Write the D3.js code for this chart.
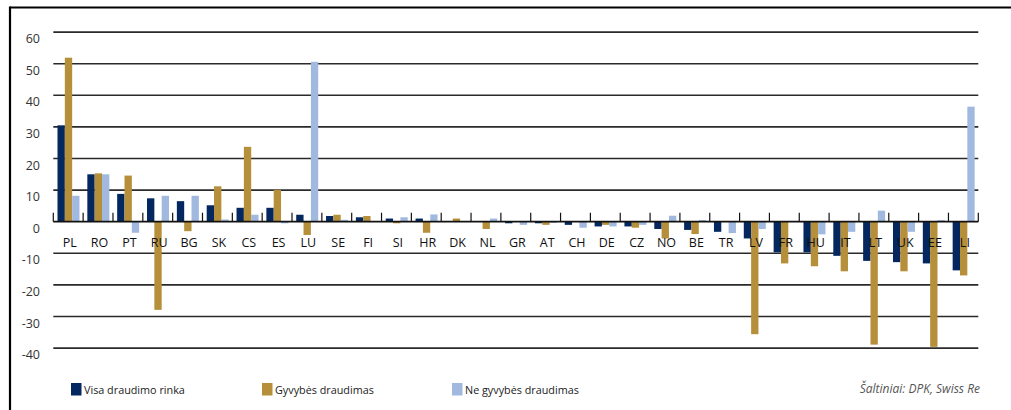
<!DOCTYPE html>
<html>
<head>
<meta charset="utf-8">
<script src="https://cdn.jsdelivr.net/npm/d3@7"></script>
<style>
  html, body { margin: 0; padding: 0; background: #fff; }
  svg { display: block; }
</style>
</head>
<body>
<svg id="chart" width="1011" height="410"></svg>
<script>
const categories = ["PL","RO","PT","RU","BG","SK","CS","ES","LU","SE","FI","SI","HR","DK","NL","GR","AT","CH","DE","CZ","NO","BE","TR","LV","FR","HU","IT","LT","UK","EE","LI"];
const seriesNames = ["Visa draudimo rinka","Gyvybės draudimas","Ne gyvybės draudimas"];
const totalMarket = [30.5,15.0,8.8,7.4,6.5,5.2,4.4,4.4,2.2,1.8,1.4,1.0,1.0,0,0,-0.5,-0.5,-1.0,-1.5,-1.5,-2.3,-2.6,-3.2,-5.3,-9.7,-9.7,-10.8,-12.4,-12.8,-13.2,-15.4];
const lifeIns = [51.9,15.3,14.6,-27.9,-3.0,11.2,23.7,10.1,-4.2,2.2,1.8,-0.5,-3.5,1.0,-2.3,0,-1.0,0,-1.0,-1.9,-5.3,-3.9,0,-35.6,-13.2,-14.1,-15.7,-38.9,-15.7,-39.6,-17.0];
const nonLifeIns = [8.2,15.0,-3.5,8.2,8.2,0.7,2.2,-0.5,50.6,0.6,0,1.4,2.3,0,1.0,-1.0,-0.4,-1.9,-1.5,-1.0,1.9,0.5,-3.6,-2.3,0,-4.0,-3.2,3.5,-3.2,0.5,36.4];
const yTicks = [60,50,40,30,20,10,0,-10,-20,-30,-40];
const sourceText = "Šaltiniai: DPK, Swiss Re";

const colors = ["#03275e","#b68f3b","#a2b9df"];
const seriesValues = [totalMarket, lifeIns, nonLifeIns];

const svg = d3.select("#chart");

// frame
svg.append("line").attr("x1",10).attr("x2",1011).attr("y1",7.5).attr("y2",7.5).attr("stroke","#000").attr("stroke-width",2.2);
svg.append("line").attr("x1",10).attr("x2",10).attr("y1",6.5).attr("y2",410).attr("stroke","#000").attr("stroke-width",2.2);

const x0 = d3.scaleBand().domain(categories).range([53.3, 978.3]).padding(0);
const x1 = d3.scaleBand().domain(seriesNames).range([4.2, 26.2]).padding(0);
const y = d3.scaleLinear().domain([-40, 60]).range([348.1, 32.1]);

// gridlines
svg.append("g").selectAll("line").data(yTicks.filter(d => d !== 0)).join("line")
  .attr("x1", 53.3).attr("x2", 978.3)
  .attr("y1", d => y(d)).attr("y2", d => y(d))
  .attr("stroke", "#2a2a2a").attr("stroke-width", 1.6);

// y labels
svg.append("g").selectAll("text").data(yTicks).join("text")
  .attr("x", 40).attr("y", d => y(d) + 11)
  .attr("text-anchor", "end")
  .attr("font-family", "'Open Sans', sans-serif")
  .attr("font-size", 12.5)
  .attr("fill", "#333")
  .text(d => d);

// bars
const rows = [];
categories.forEach((c, i) => {
  seriesNames.forEach((s, j) => rows.push({cat: c, ser: s, j: j, v: seriesValues[j][i]}));
});
svg.append("g").selectAll("rect").data(rows.filter(d => d.v !== 0)).join("rect")
  .attr("x", d => x0(d.cat) + x1(d.ser))
  .attr("width", x1.bandwidth())
  .attr("y", d => y(Math.max(0, d.v)))
  .attr("height", d => Math.abs(y(d.v) - y(0)))
  .attr("fill", d => colors[d.j]);

// zero axis with ticks
svg.append("line").attr("x1", 53.3).attr("x2", 978.3).attr("y1", y(0)).attr("y2", y(0))
  .attr("stroke", "#111").attr("stroke-width", 1.8);
const bounds = categories.map(c => x0(c)).concat([x0.range()[1]]);
svg.append("g").selectAll("line").data(bounds).join("line")
  .attr("x1", d => d).attr("x2", d => d)
  .attr("y1", y(0)).attr("y2", y(0) - 9)
  .attr("stroke", "#111").attr("stroke-width", 1.2);

// category labels
svg.append("g").selectAll("text").data(categories).join("text")
  .attr("x", d => x0(d) + x0.bandwidth() / 2 + 1.5)
  .attr("y", 247)
  .attr("text-anchor", "middle")
  .attr("font-family", "'Open Sans', sans-serif")
  .attr("font-size", 12.5)
  .attr("fill", "#111")
  .text(d => d);

// legend
const legendX = [71, 262, 452];
const lg = svg.append("g").selectAll("g").data(seriesNames).join("g");
lg.append("rect").attr("x", (d, i) => legendX[i]).attr("y", 383).attr("width", 10.5).attr("height", 12.5)
  .attr("fill", (d, i) => colors[i]);
lg.append("text").attr("x", (d, i) => legendX[i] + 13).attr("y", 394)
  .attr("font-family", "'Open Sans', sans-serif").attr("font-size", 10.8).attr("fill", "#222")
  .text(d => d);

svg.append("text").attr("x", 980).attr("y", 393).attr("text-anchor", "end")
  .attr("font-family", "'Open Sans', sans-serif").attr("font-style", "italic")
  .attr("font-size", 12).attr("fill", "#555").text(sourceText);
</script>
</body>
</html>
